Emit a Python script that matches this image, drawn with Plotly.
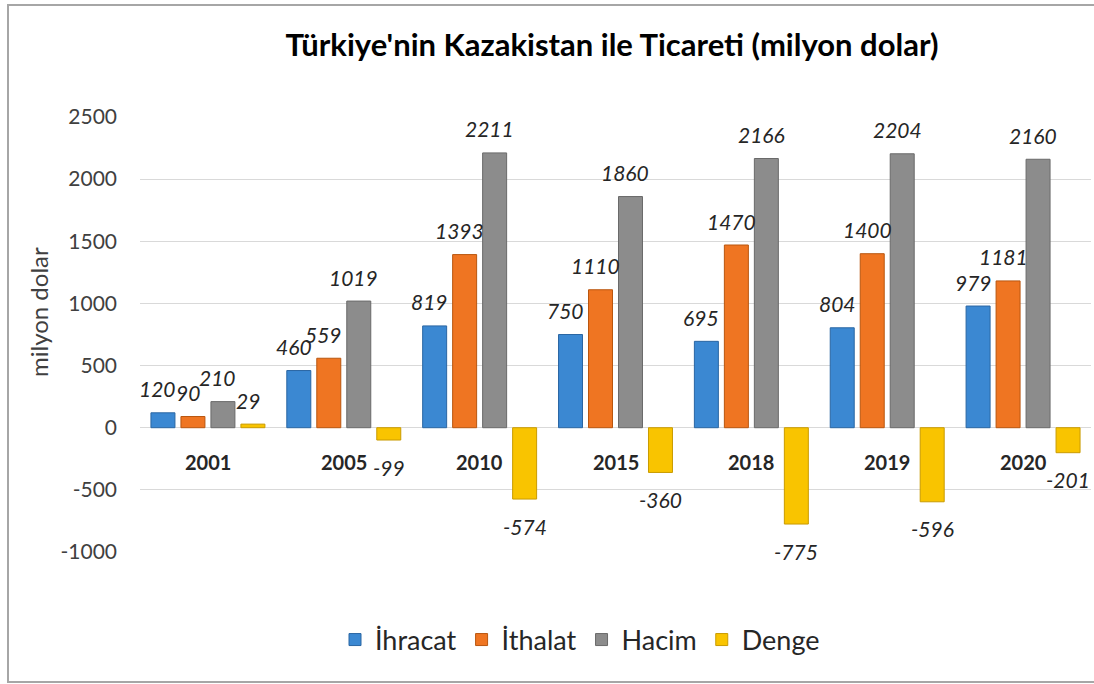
import plotly.graph_objects as go

years = ["2001", "2005", "2010", "2015", "2018", "2019", "2020"]
ihracat = [120, 460, 819, 750, 695, 804, 979]
ithalat = [90, 559, 1393, 1110, 1470, 1400, 1181]
hacim = [210, 1019, 2211, 1860, 2166, 2204, 2160]
denge = [29, -99, -574, -360, -775, -596, -201]

series_names = ["İhracat", "İthalat", "Hacim", "Denge"]
series_values = [ihracat, ithalat, hacim, denge]
fill_colors = ["#3B88D2", "#EF7522", "#8C8C8C", "#F9C400"]
edge_colors = ["#2A66A3", "#B9560F", "#6A6A6A", "#C99B00"]

y_ticks = [-1000, -500, 0, 500, 1000, 1500, 2000, 2500]

FONT = "Lato, Carlito, Calibri, 'Liberation Sans', sans-serif"
TXT = "#262626"

W, H = 1094, 684
# plot area in page pixels
PX0, PX1, PY0, PY1 = 140, 1091, 117, 552
ML, MT = PX0, PY0
MR, MB = W - PX1, H - PY1
PW = PX1 - PX0
PH = PY1 - PY0


def px(xp):
    return (xp - PX0) / PW


def py(yp):
    return (PY1 - yp) / PH


BARGAP = 0.117
GROUPGAP = 0.2

fig = go.Figure()
for name, vals, fc, ec in zip(series_names, series_values, fill_colors, edge_colors):
    fig.add_trace(go.Bar(
        x=years, y=vals, name=name,
        marker=dict(color=fc, line=dict(color=ec, width=1)),
    ))

# data labels (x given as category index to avoid numeric interpretation)
n = len(series_names)
cat_w = PW / len(years)
slot = cat_w * (1 - BARGAP) / n
annotations = []
for i, vals in enumerate(series_values):
    for j, v in enumerate(vals):
        dx = (i - (n - 1) / 2) * slot
        if v >= 0:
            annotations.append(dict(x=j, y=v, xref="x", yref="y", text=str(v),
                                    showarrow=False, xshift=dx - 5, yshift=24,
                                    yanchor="middle",
                                    font=dict(family=FONT, size=21, color=TXT, style="italic")))
        else:
            annotations.append(dict(x=j, y=v, xref="x", yref="y", text=str(v),
                                    showarrow=False, xshift=dx, yshift=-27,
                                    yanchor="middle",
                                    font=dict(family=FONT, size=21, color=TXT, style="italic")))

# category labels near zero line
for j, yr in enumerate(years):
    annotations.append(dict(x=j, y=0, xref="x", yref="y", text="<b>" + yr + "</b>",
                            showarrow=False, yshift=-34, yanchor="middle",
                            font=dict(family=FONT, size=20, color=TXT)))

# y-axis title
annotations.append(dict(x=px(38), y=py(312), xref="paper", yref="paper",
                        text="milyon dolar", textangle=-90, showarrow=False,
                        xanchor="center", yanchor="middle",
                        font=dict(family=FONT, size=24, color="#404040")))

shapes = [dict(type="rect", xref="paper", yref="paper",
               x0=px(8), x1=px(1110), y0=py(682), y1=py(5),
               line=dict(color="#A6A6A6", width=2), fillcolor="rgba(0,0,0,0)", layer="below")]

fig.update_layout(
    width=W, height=H,
    margin=dict(l=ML, r=MR, t=MT, b=MB, autoexpand=False),
    paper_bgcolor="white", plot_bgcolor="white",
    barmode="group", bargap=BARGAP, bargroupgap=GROUPGAP,
    title=dict(text="<b>Türkiye'nin Kazakistan ile Ticareti (milyon dolar)</b>",
               x=px(612), xref="paper", xanchor="center",
               y=1 - 45 / H, yref="container", yanchor="middle",
               font=dict(family=FONT, size=31, color="#000000")),
    font=dict(family=FONT, color=TXT),
    xaxis=dict(type="category", categoryorder="array", categoryarray=years,
               range=[-0.5, len(years) - 0.5],
               showticklabels=False, showgrid=False, showline=False,
               ticks="", automargin=False),
    yaxis=dict(range=[-1000, 2500], tickvals=y_ticks, ticktext=[str(t) for t in y_ticks],
               showgrid=True, gridcolor="#D9D9D9", gridwidth=1,
               zeroline=True, zerolinecolor="#D9D9D9", zerolinewidth=1,
               ticks="", ticklabelstandoff=22, automargin=False,
               tickfont=dict(family=FONT, size=21, color="#404040")),
    legend=dict(orientation="h", x=px(580), xanchor="center",
                y=py(640), yanchor="middle",
                font=dict(family=FONT, size=27, color=TXT), itemwidth=30,
                traceorder="normal"),
    annotations=annotations,
    shapes=shapes,
)

fig.write_html(
    "out.html",
    config={"displayModeBar": False},
    post_script="document.body.style.margin='0';document.body.style.overflow='hidden';",
)
